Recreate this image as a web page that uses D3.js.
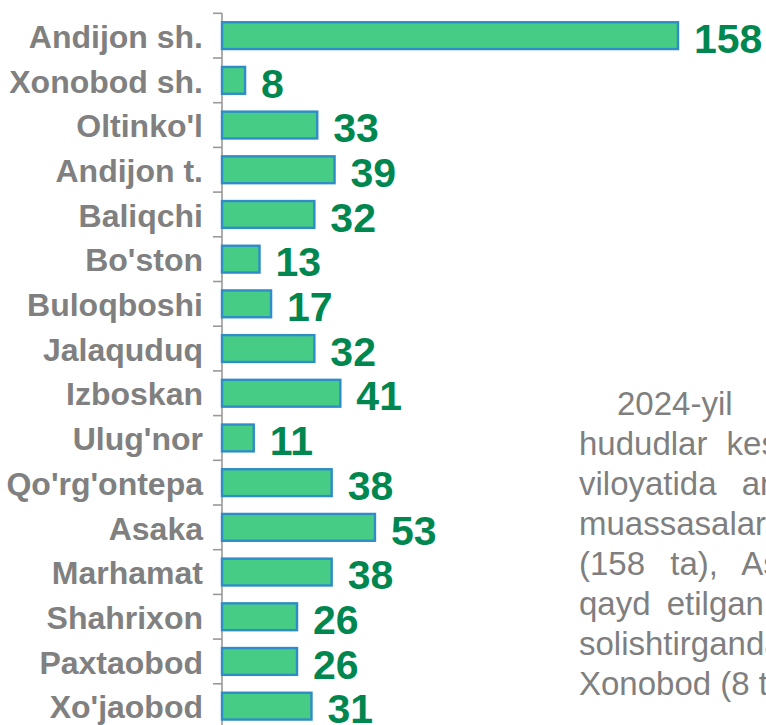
<!DOCTYPE html>
<html>
<head>
<meta charset="utf-8">
<script src="https://cdn.jsdelivr.net/npm/d3@7"></script>
<style>
  html, body { margin: 0; padding: 0; background: #fff; }
  svg { display: block; }
</style>
</head>
<body>
<script>
var districts = ["Andijon sh.", "Xonobod sh.", "Oltinko'l", "Andijon t.", "Baliqchi", "Bo'ston",
    "Buloqboshi", "Jalaquduq", "Izboskan", "Ulug'nor", "Qo'rg'ontepa", "Asaka",
    "Marhamat", "Shahrixon", "Paxtaobod", "Xo'jaobod"];
var counts = [158, 8, 33, 39, 32, 13, 17, 32, 41, 11, 38, 53, 38, 26, 26, 31];

var noteLines = ["2024-yil davomida", "hududlar kesimida", "viloyatida amal", "muassasalari",
    "(158 ta), Asaka", "qayd etilgan.", "solishtirganda", "Xonobod (8 ta)"];

var width = 766;
var height = 725;

var svg = d3.select("body").append("svg")
    .attr("width", width)
    .attr("height", height);

var xScale = d3.scaleLinear()
    .domain([0, 158])
    .range([222, 678]);

var yScale = d3.scaleBand()
    .domain(districts)
    .range([13.3, 13.3 + 44.7 * districts.length])
    .paddingInner(0.4)
    .paddingOuter(0.2);

var gap = (yScale.step() - yScale.bandwidth()) / 2;

// axis with ticks between the categories
var axis = svg.append("g")
    .attr("transform", "translate(" + xScale(0) + ",0)")
    .call(d3.axisLeft(yScale).tickSize(9).tickSizeOuter(0).tickFormat(""));
axis.select(".domain")
    .attr("stroke", "#999")
    .attr("stroke-width", 1.6)
    .attr("d", "M0," + (yScale(districts[0]) - gap) + "V" + height);
axis.selectAll(".tick")
    .attr("transform", function(d) { return "translate(0," + (yScale(d) - gap) + ")"; });
axis.selectAll(".tick line")
    .attr("stroke", "#999")
    .attr("stroke-width", 1.6);

svg.selectAll("rect.bar")
    .data(counts)
    .enter()
    .append("rect")
    .attr("class", "bar")
    .attr("x", xScale(0))
    .attr("y", function(d, i) { return yScale(districts[i]); })
    .attr("width", function(d) { return xScale(d) - xScale(0); })
    .attr("height", yScale.bandwidth())
    .attr("fill", "#47cc86")
    .attr("stroke", "#2e8cc6")
    .attr("stroke-width", 2.4);

svg.selectAll("text.cat")
    .data(districts)
    .enter()
    .append("text")
    .attr("class", "cat")
    .attr("x", 203)
    .attr("y", function(d) { return yScale(d) + yScale.bandwidth() / 2; })
    .attr("dy", "0.38em")
    .attr("text-anchor", "end")
    .attr("font-family", "Liberation Sans, Arial, sans-serif")
    .attr("font-weight", "bold")
    .attr("font-size", 32)
    .attr("fill", "#808080")
    .text(function(d) { return d; });

svg.selectAll("text.val")
    .data(counts)
    .enter()
    .append("text")
    .attr("class", "val")
    .attr("x", function(d) { return xScale(d) + 16; })
    .attr("y", function(d, i) { return yScale(districts[i]) + yScale.bandwidth() / 2; })
    .attr("dy", "0.42em")
    .attr("font-family", "Liberation Sans, Arial, sans-serif")
    .attr("font-weight", "bold")
    .attr("font-size", 41)
    .attr("fill", "#00874f")
    .text(function(d) { return d; });

// justified paragraph on the right, cut by the page edge
var noteX = [617, 579, 579, 579, 579, 579, 579, 579];
var noteSpacing = [30, 10, 16, 0, 16, 7, 0, 0];
svg.selectAll("text.note")
    .data(noteLines)
    .enter()
    .append("text")
    .attr("class", "note")
    .attr("x", function(d, i) { return noteX[i]; })
    .attr("y", function(d, i) { return 415 + i * 40; })
    .attr("word-spacing", function(d, i) { return noteSpacing[i]; })
    .attr("font-family", "Liberation Sans, Arial, sans-serif")
    .attr("font-size", 33)
    .attr("fill", "#7f7f7f")
    .text(function(d) { return d; });
</script>
</body>
</html>
